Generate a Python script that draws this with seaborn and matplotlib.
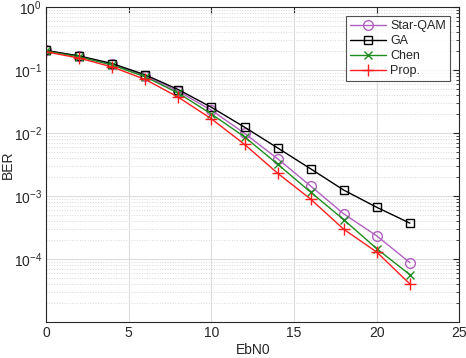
import matplotlib
matplotlib.use("Agg")
import matplotlib.pyplot as plt
import numpy as np
import pandas as pd
import seaborn as sns
from matplotlib.ticker import LogLocator, NullFormatter

# BER curves
ebn0 = [0, 2, 4, 6, 8, 10, 12, 14, 16, 18, 20, 22]
ber_star_qam = [0.205, 0.165, 0.124, 0.081, 0.046, 0.023, 0.0099, 0.0039, 0.00144, 0.00052, 0.000232, 0.0000873]
ber_ga = [0.205, 0.168, 0.127, 0.084, 0.049, 0.0256, 0.0124, 0.0058, 0.0027, 0.00124, 0.00066, 0.00037]
ber_chen = [0.200, 0.162, 0.120, 0.078, 0.043, 0.020, 0.0087, 0.0032, 0.00115, 0.00042, 0.000145, 0.0000561]
ber_prop = [0.195, 0.155, 0.112, 0.071, 0.037, 0.0168, 0.0066, 0.0023, 0.00089, 0.000296, 0.000128, 0.00004]

series_names = ["Star-QAM", "GA", "Chen", "Prop."]
series_colors = ["#B060C0", "#000000", "#1E8C1E", "#FF1E1E"]
series_markers = ["o", "s", "x", "+"]
marker_sizes = [7, 6, 6, 8]

df = pd.DataFrame({
    "EbN0": ebn0 * 4,
    "BER": ber_star_qam + ber_ga + ber_chen + ber_prop,
    "scheme": sum([[n] * len(ebn0) for n in series_names], []),
})

sns.set_style("white")
plt.rcParams["font.family"] = ["Liberation Sans", "DejaVu Sans"]
plt.rcParams["mathtext.fontset"] = "custom"
plt.rcParams["mathtext.rm"] = "Liberation Sans"
plt.rcParams["font.size"] = 10

fig = plt.figure(figsize=(4.66, 3.58), dpi=100)
ax = fig.add_axes([0.099, 0.101, 0.887, 0.879])

for name, color, mk, ms in zip(series_names, series_colors, series_markers, marker_sizes):
    sub = df[df["scheme"] == name]
    sns.lineplot(data=sub, x="EbN0", y="BER", ax=ax, color=color, marker=mk,
                 markersize=ms, markerfacecolor="none", markeredgecolor=color,
                 markeredgewidth=1.0, linewidth=1.0, label=name)

ax.set_yscale("log")
ax.set_xlim(0, 25)
ax.set_ylim(1e-5, 1)
ax.set_xticks([0, 5, 10, 15, 20, 25])
ax.yaxis.set_minor_locator(LogLocator(base=10, subs=np.arange(2, 10), numticks=10))
ax.yaxis.set_minor_formatter(NullFormatter())
ax.set_yticks([1e-4, 1e-3, 1e-2, 1e-1, 1e0])
ax.set_yticklabels(["$\\mathregular{10^{-4}}$", "$\\mathregular{10^{-3}}$", "$\\mathregular{10^{-2}}$",
                    "$\\mathregular{10^{-1}}$", "$\\mathregular{10^{0}}$"])

ax.grid(True, which="major", color="#DCDCDC", linewidth=0.8)
ax.grid(True, which="minor", axis="y", color="#D8D8D8", linestyle=":", linewidth=0.7)
ax.set_axisbelow(True)
for s in ax.spines.values():
    s.set_color("#262626")
    s.set_linewidth(0.8)
ax.tick_params(which="both", direction="in", top=True, right=True, colors="#262626", labelsize=10, pad=3)
ax.tick_params(which="major", length=4)
ax.tick_params(which="minor", length=2)

ax.set_xlabel("EbN0", fontsize=10, labelpad=2)
ax.set_ylabel("BER", fontsize=10)
ax.yaxis.set_label_coords(-0.075, 0.5)

leg = ax.legend(loc="upper right", bbox_to_anchor=(0.976, 0.971), borderaxespad=0, fontsize=9,
                frameon=True, fancybox=False, edgecolor="#262626", handlelength=2.9, borderpad=0.3,
                labelspacing=0.25, handletextpad=0.3)
leg.get_frame().set_linewidth(0.8)

fig.savefig("out.png", dpi=100)
